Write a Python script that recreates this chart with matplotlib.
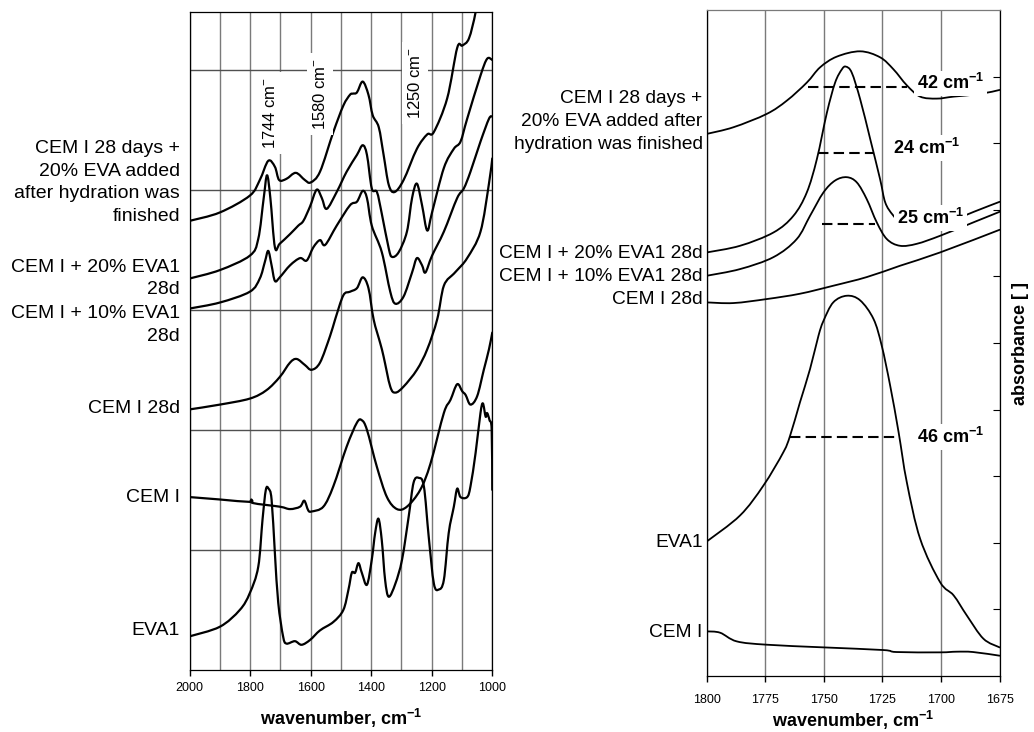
import matplotlib
matplotlib.use("Agg")
import matplotlib.pyplot as plt
import numpy as np
from matplotlib.patches import PathPatch
from matplotlib.path import Path

plt.rcParams["font.family"] = ["Liberation Sans", "DejaVu Sans"]
plt.rcParams["mathtext.default"] = "regular"

# ---- left panel: full spectra, 2000-1000 cm-1 (offset absorbance) ----
left_labels = [
    "CEM I 28 days +\n20% EVA added\nafter hydration was\nfinished",
    "CEM I + 20% EVA1\n28d",
    "CEM I + 10% EVA1\n28d",
    "CEM I 28d",
    "CEM I",
    "EVA1",
]
left_label_y = [4.06, 3.26, 2.875, 2.18, 1.44, 0.325]

wn_hyd = [2000, 1900, 1801, 1768, 1740, 1718, 1704, 1680, 1649, 1619, 1600, 1569, 1525, 1492,
          1470, 1460, 1447, 1428, 1409, 1395, 1375, 1359, 1342, 1323, 1293, 1249, 1215, 1193,
          1149, 1116, 1099, 1077, 1055, 1040]
abs_hyd = [3.74, 3.81, 3.95, 4.08, 4.24, 4.19, 4.08, 4.09, 4.14, 4.08, 4.06, 4.15, 4.48, 4.70,
           4.79, 4.80, 4.81, 4.90, 4.79, 4.62, 4.52, 4.29, 4.04, 3.98, 4.08, 4.34, 4.46, 4.48,
           4.76, 5.18, 5.20, 5.26, 5.48, 5.75]

wn_20 = [2000, 1900, 1801, 1773, 1755, 1744, 1733, 1718, 1702, 1668, 1641, 1624, 1602, 1580,
         1563, 1547, 1514, 1481, 1447, 1428, 1414, 1398, 1381, 1365, 1342, 1331, 1309, 1282,
         1265, 1249, 1232, 1215, 1199, 1160, 1127, 1105, 1083, 1039, 1017, 1000]
abs_20 = [3.26, 3.33, 3.45, 3.59, 3.93, 4.12, 3.93, 3.52, 3.55, 3.63, 3.70, 3.74, 3.86, 4.00,
          3.93, 3.84, 3.98, 4.15, 4.29, 4.37, 4.29, 4.01, 3.98, 3.80, 3.51, 3.44, 3.48, 3.65,
          3.93, 4.05, 3.87, 3.66, 3.81, 4.18, 4.34, 4.40, 4.59, 4.95, 5.09, 5.08]

wn_10 = [2000, 1900, 1801, 1768, 1751, 1740, 1729, 1718, 1702, 1668, 1635, 1613, 1591, 1569,
         1552, 1514, 1470, 1447, 1428, 1414, 1398, 1365, 1337, 1320, 1293, 1265, 1249, 1232,
         1221, 1199, 1160, 1116, 1094, 1072, 1039, 1011, 1000]
abs_10 = [3.01, 3.06, 3.15, 3.26, 3.40, 3.49, 3.37, 3.24, 3.27, 3.37, 3.43, 3.41, 3.52, 3.58,
          3.54, 3.70, 3.87, 3.90, 3.99, 3.93, 3.70, 3.48, 3.15, 3.05, 3.11, 3.31, 3.43, 3.37,
          3.31, 3.45, 3.65, 3.93, 4.01, 4.15, 4.40, 4.59, 4.61]

wn_cem28 = [2000, 1900, 1801, 1746, 1702, 1668, 1646, 1619, 1597, 1569, 1536, 1519, 1492, 1470,
            1447, 1428, 1409, 1392, 1370, 1359, 1337, 1320, 1293, 1249, 1215, 1182, 1160, 1127,
            1116, 1083, 1039, 1011, 1000]
abs_cem28 = [2.17, 2.21, 2.26, 2.33, 2.44, 2.56, 2.59, 2.54, 2.50, 2.56, 2.78, 2.92, 3.12, 3.15,
             3.18, 3.27, 3.18, 2.92, 2.72, 2.61, 2.36, 2.31, 2.36, 2.50, 2.67, 2.92, 3.20, 3.30,
             3.33, 3.43, 3.65, 4.05, 4.26]

wn_cem = [2000, 1900, 1801, 1796, 1790, 1702, 1668, 1635, 1621, 1608, 1597, 1558, 1525, 1481,
          1447, 1431, 1414, 1381, 1348, 1315, 1282, 1238, 1204, 1160, 1138, 1116, 1099, 1088,
          1072, 1050, 1028, 1011, 1000]
abs_cem = [1.44, 1.42, 1.40, 1.42, 1.39, 1.36, 1.34, 1.36, 1.41, 1.33, 1.32, 1.36, 1.53, 1.86,
           2.06, 2.08, 2.00, 1.69, 1.44, 1.34, 1.36, 1.50, 1.72, 2.14, 2.25, 2.38, 2.32, 2.29,
           2.21, 2.28, 2.50, 2.67, 2.81]

wn_eva = [2000, 1900, 1834, 1801, 1773, 1759, 1748, 1739, 1729, 1718, 1707, 1691, 1680, 1652,
          1630, 1602, 1569, 1525, 1492, 1475, 1464, 1453, 1442, 1431, 1414, 1398, 1387, 1376,
          1365, 1354, 1342, 1320, 1298, 1276, 1260, 1243, 1226, 1210, 1193, 1177, 1160, 1144,
          1127, 1116, 1105, 1083, 1072, 1055, 1039, 1031, 1022, 1017, 1009, 1002, 1000]
abs_eva = [0.28, 0.36, 0.50, 0.64, 0.86, 1.25, 1.50, 1.51, 1.42, 0.97, 0.56, 0.28, 0.22, 0.24,
           0.21, 0.25, 0.33, 0.40, 0.50, 0.67, 0.81, 0.81, 0.89, 0.81, 0.71, 0.92, 1.14, 1.26,
           1.08, 0.75, 0.61, 0.72, 0.92, 1.28, 1.56, 1.60, 1.53, 1.11, 0.72, 0.67, 0.75, 1.14,
           1.36, 1.51, 1.44, 1.44, 1.53, 1.81, 2.14, 2.22, 2.11, 2.14, 2.08, 2.00, 1.50]

left_wn = [wn_hyd, wn_20, wn_10, wn_cem28, wn_cem, wn_eva]
left_abs = [abs_hyd, abs_20, abs_10, abs_cem28, abs_cem, abs_eva]

peak_labels = ["1744 cm$^{-}$", "1580 cm$^{-}$", "1250 cm$^{-}$"]
peak_wn = [1735, 1570, 1255]
peak_y = [4.64, 4.80, 4.89]

# ---- right panel: carbonyl band, 1800-1675 cm-1 ----
right_labels = [
    "CEM I 28 days +\n20% EVA added after\nhydration was finished",
    "CEM I + 20% EVA1 28d",
    "CEM I + 10% EVA1 28d",
    "CEM I 28d",
    "EVA1",
    "CEM I",
]
right_label_y = [8.33, 6.35, 6.0, 5.65, 2.0, 0.66]

rwn_hyd = [1800, 1788.6, 1774.4, 1765.8, 1757.3, 1751.6, 1744.5, 1734.5, 1726, 1720.3, 1714.6,
           1708.9, 1701.8, 1694.6, 1683.3, 1675]
rabs_hyd = [8.14, 8.24, 8.44, 8.64, 8.91, 9.14, 9.30, 9.38, 9.29, 9.11, 8.87, 8.70, 8.67, 8.70,
            8.74, 8.80]

rwn_20 = [1800, 1785.8, 1771.5, 1763, 1757.3, 1753, 1748.7, 1745.2, 1742.3, 1740.6, 1738.1,
          1734.5, 1730.2, 1726, 1723.8, 1720.5, 1716, 1710, 1700, 1686, 1675]
rabs_20 = [6.36, 6.46, 6.66, 6.91, 7.26, 7.76, 8.46, 8.91, 9.11, 9.15, 9.06, 8.66, 8.06, 7.46,
           7.11, 6.92, 6.76, 6.70, 6.77, 6.97, 7.12]

rwn_10 = [1800, 1785.8, 1771.5, 1761.6, 1755.9, 1750.2, 1745.2, 1740.2, 1735.9, 1731.7, 1727.4,
          1723.1, 1717.5, 1710.3, 1700.4, 1685.6, 1675]
rabs_10 = [6.01, 6.11, 6.29, 6.56, 6.91, 7.26, 7.44, 7.49, 7.41, 7.16, 6.81, 6.56, 6.46, 6.49,
           6.61, 6.82, 6.97]

rwn_cem28 = [1800, 1788.6, 1774.4, 1760.2, 1746, 1731.7, 1717.5, 1700.4, 1675]
rabs_cem28 = [5.61, 5.60, 5.66, 5.74, 5.86, 5.99, 6.16, 6.36, 6.70]

rwn_eva = [1800, 1785.8, 1775.8, 1767.3, 1764.4, 1760.2, 1755.9, 1752.3, 1750.2, 1746, 1740.2,
           1734.5, 1728.8, 1725.3, 1721.7, 1718.1, 1714.6, 1708.9, 1700.4, 1694.6, 1689, 1681.9,
           1675]
rabs_eva = [2.02, 2.41, 2.86, 3.36, 3.61, 4.11, 4.61, 5.11, 5.33, 5.61, 5.71, 5.64, 5.36, 4.96,
            4.36, 3.66, 2.91, 2.06, 1.41, 1.21, 0.91, 0.56, 0.43]

rwn_cem = [1800, 1794.3, 1787.2, 1774.4, 1750.3, 1724.7, 1719, 1700.5, 1693.4, 1686.3, 1675]
rabs_cem = [0.67, 0.65, 0.52, 0.47, 0.43, 0.39, 0.36, 0.355, 0.365, 0.36, 0.305]

right_wn = [rwn_hyd, rwn_20, rwn_10, rwn_cem28, rwn_eva, rwn_cem]
right_abs = [rabs_hyd, rabs_20, rabs_10, rabs_cem28, rabs_eva, rabs_cem]

# half-width markers
fwhm_text = ["42 cm$^{-1}$", "24 cm$^{-1}$", "25 cm$^{-1}$", "46 cm$^{-1}$"]
fwhm_from = [1756.6, 1752.3, 1750.9, 1764.4]
fwhm_to = [1714.6, 1728.8, 1728.1, 1717.9]
fwhm_level = [8.85, 7.86, 6.78, 3.59]
fwhm_text_wn = [1710.3, 1720.6, 1718.9, 1710.3]
fwhm_text_y = [8.90, 7.93, 6.88, 3.59]

GRID = "#7a7a7a"


def spectrum_path(x, y):
    # smooth curve through the read points (Catmull-Rom as cubic Bezier segments)
    pts = np.column_stack([x, y]).astype(float)
    n = len(pts)
    verts = [pts[0]]
    codes = [Path.MOVETO]
    for i in range(n - 1):
        p0 = pts[max(i - 1, 0)]
        p1 = pts[i]
        p2 = pts[i + 1]
        p3 = pts[min(i + 2, n - 1)]
        verts += [p1 + (p2 - p0) / 6, p2 - (p3 - p1) / 6, p2]
        codes += [Path.CURVE4] * 3
    return Path(verts, codes)


def draw_spectrum(ax, x, y, lw):
    ax.add_patch(PathPatch(spectrum_path(x, y), fill=False, ec="black", lw=lw,
                           joinstyle="round", capstyle="round", zorder=2))


fig = plt.figure(figsize=(10.34, 7.32), dpi=100)

# ---------------- left ----------------
ax1 = fig.add_axes([0.1833, 0.0847, 0.2928, 0.899])
for wn, ab in zip(left_wn, left_abs):
    draw_spectrum(ax1, wn, ab, 1.6)
ax1.set_xlim(2000, 1000)
ax1.set_ylim(0, 5.48)
ax1.set_xticks(range(2000, 999, -200))
ax1.set_xticks(range(1900, 1000, -200), minor=True)
ax1.set_yticks([1, 2, 3, 4, 5])
ax1.grid(True, which="both", axis="x", color=GRID, lw=1.0, zorder=0)
ax1.grid(True, axis="y", color="#505050", lw=1.0, zorder=0)
ax1.tick_params(axis="x", which="major", direction="out", length=4, width=1, labelsize=9, pad=5)
ax1.tick_params(axis="x", which="minor", length=0)
ax1.tick_params(axis="y", length=0, labelleft=False)
for s in ax1.spines.values():
    s.set_color("black")
    s.set_linewidth(0.9)
ax1.set_xlabel("wavenumber, cm$^{-1}$", fontsize=13, fontweight="bold", labelpad=9)

ytr1 = ax1.get_yaxis_transform()
for lab, y in zip(left_labels, left_label_y):
    ax1.text(-0.031, y, lab, transform=ytr1, ha="right", va="center", fontsize=14,
             linespacing=1.45, clip_on=False)

for lab, x, y in zip(peak_labels, peak_wn, peak_y):
    ax1.text(x, y, lab, rotation=90, ha="center", va="center", fontsize=12, zorder=3,
             bbox=dict(boxstyle="square,pad=0.3", fc="white", ec="none"))

# ---------------- right ----------------
ax2 = fig.add_axes([0.6835, 0.0765, 0.2832, 0.9098])
for wn, ab in zip(right_wn, right_abs):
    draw_spectrum(ax2, wn, ab, 1.3)
for x0, x1, lv in zip(fwhm_from, fwhm_to, fwhm_level):
    ax2.plot([x0, x1], [lv, lv], color="black", lw=1.5, ls=(0, (5, 2.5)), zorder=2)
for lab, x, y in zip(fwhm_text, fwhm_text_wn, fwhm_text_y):
    ax2.text(x, y, lab, ha="left", va="center", fontsize=13, fontweight="bold", zorder=4,
             bbox=dict(boxstyle="square,pad=0.15", fc="white", ec="none"))

ax2.set_xlim(1800, 1675)
ax2.set_ylim(0, 10)
ax2.set_xticks([1800, 1775, 1750, 1725, 1700, 1675])
ax2.set_yticks(range(1, 10))
ax2.grid(True, axis="x", color=GRID, lw=1.0, zorder=0)
ax2.yaxis.tick_right()
ax2.tick_params(axis="y", direction="in", length=5, width=0.8, labelright=False)
ax2.tick_params(axis="x", direction="out", length=4, width=1, labelsize=9, pad=9)
for s in ax2.spines.values():
    s.set_color("black")
    s.set_linewidth(0.9)
ax2.spines["top"].set_color(GRID)
ax2.set_xlabel("wavenumber, cm$^{-1}$", fontsize=13, fontweight="bold", labelpad=2)
ax2.yaxis.set_label_position("right")
ax2.set_ylabel("absorbance [ ]", fontsize=13, fontweight="bold", labelpad=9)

ytr2 = ax2.get_yaxis_transform()
for lab, y in zip(right_labels, right_label_y):
    ax2.text(-0.014, y, lab, transform=ytr2, ha="right", va="center", fontsize=13.8,
             linespacing=1.45, clip_on=False)

fig.savefig("out.png", dpi=100)
